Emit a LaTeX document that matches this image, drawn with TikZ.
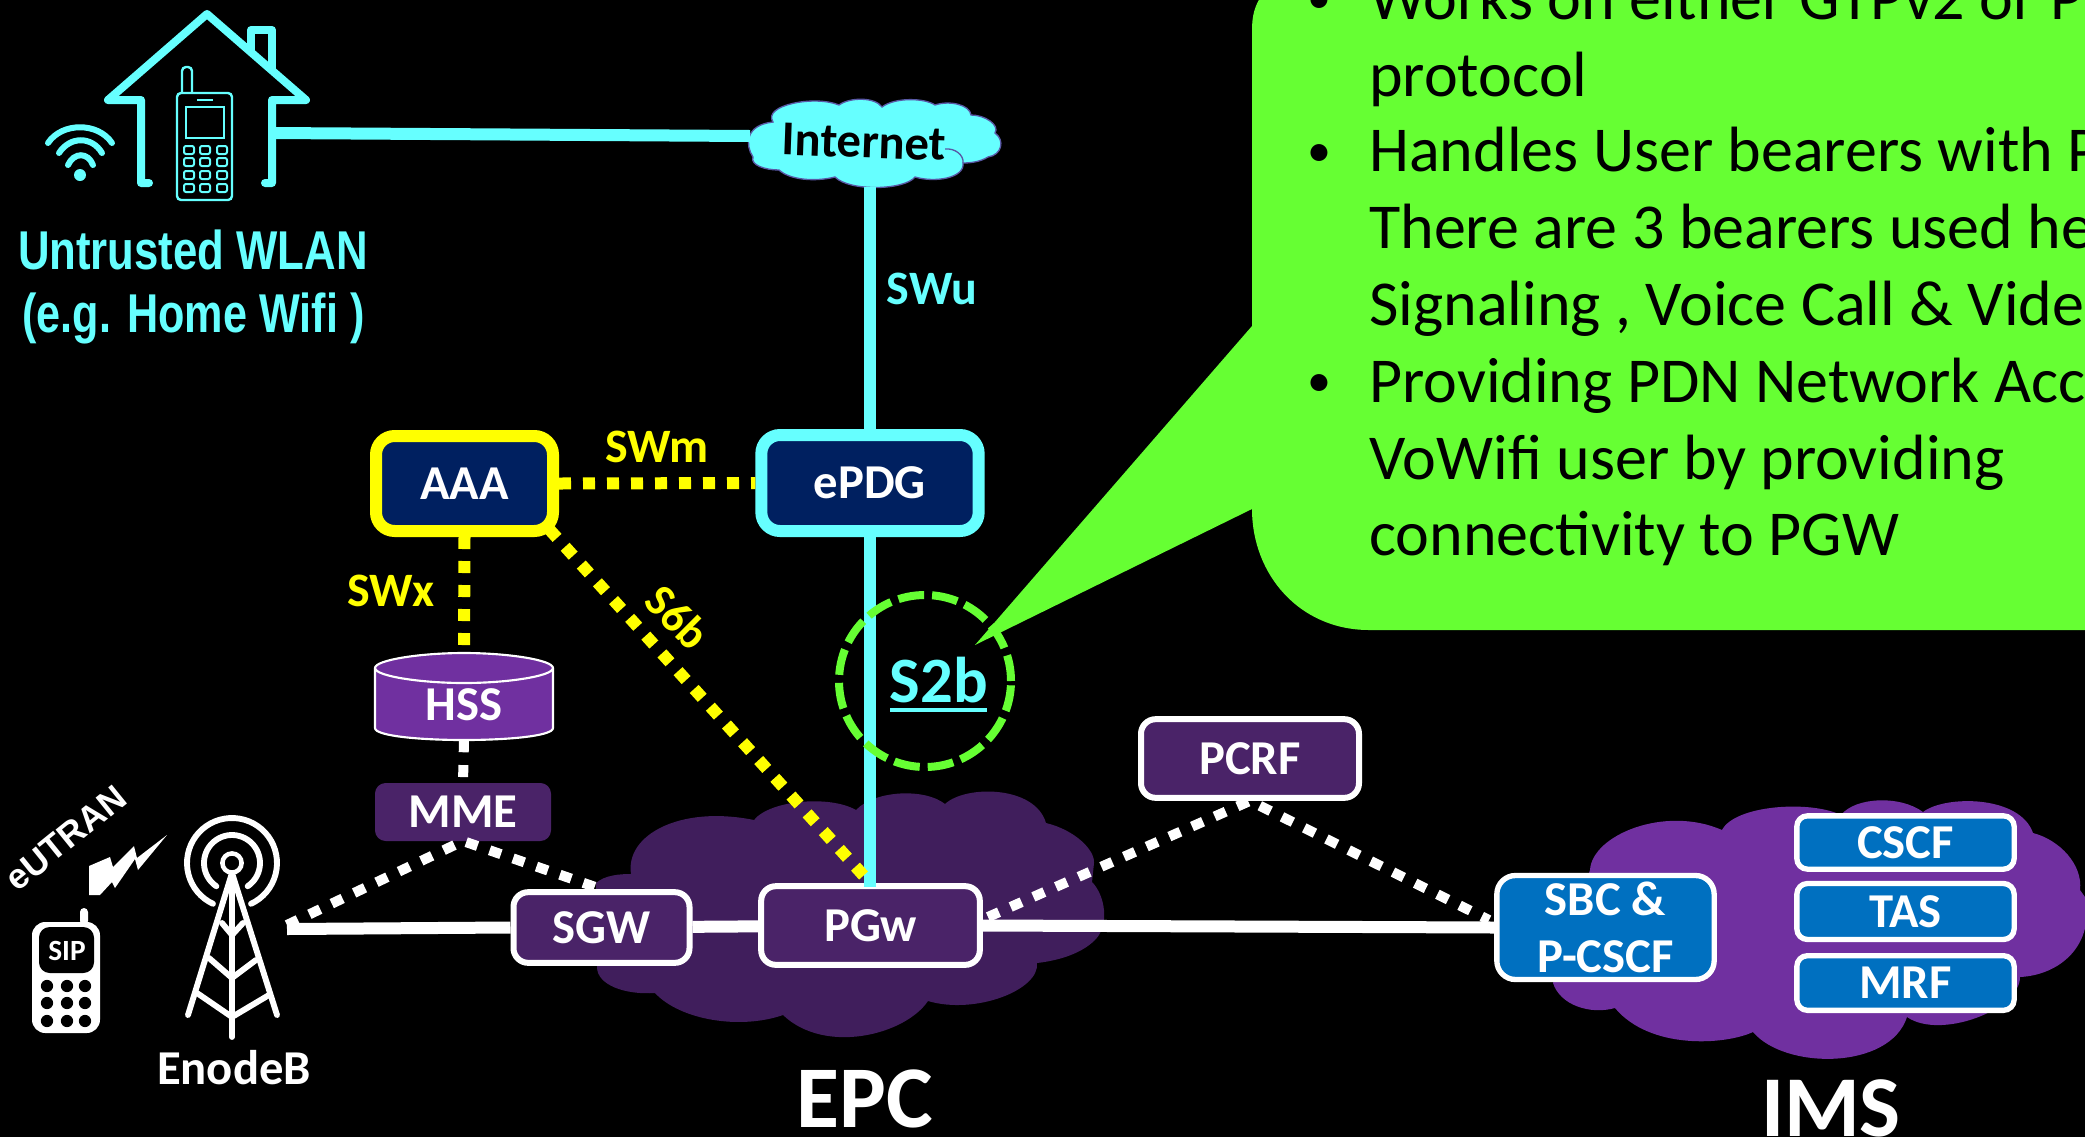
\documentclass[tikz,border=0pt]{standalone}
\usepackage{fontspec}
\setmainfont{Carlito}
\newfontfamily\arialf{Liberation Sans}
\def\fs#1{\fontsize{#1pt}{#1pt}\selectfont}
\definecolor{cy}{HTML}{66FFFF}
\definecolor{yel}{HTML}{FFFF00}
\definecolor{grn}{HTML}{66FF33}
\definecolor{navyb}{HTML}{002060}
\definecolor{purd}{HTML}{4A2368}
\definecolor{purc}{HTML}{401E5C}
\definecolor{purl}{HTML}{7030A0}
\definecolor{blu}{HTML}{0070C0}
\tikzset{
  lbl/.style={font=\bfseries\fs{36.5},text=white,inner sep=0pt,outer sep=0pt,align=center},
  boxn/.style={rectangle,draw=white,fill=purd,line width=4.5pt,rounded corners=11pt,lbl,outer sep=2.25pt},
  blueb/.style={boxn,fill=blu,line width=4pt,rounded corners=8pt},
  thickbox/.style={rectangle,fill=navyb,line width=9pt,rounded corners=14pt,lbl,outer sep=4.5pt},
  bodyt/.style={anchor=base west,text=black,inner sep=0pt,font=\fs{48}},
  bullt/.style={anchor=base west,text=black,inner sep=0pt,font=\fs{36}},
  yeldot/.style={draw=yel,line width=9pt,dash pattern=on 9pt off 9pt},
  whidot/.style={draw=white,line width=7.5pt,dash pattern=on 9pt off 9.6pt},
  whiline/.style={draw=white,line width=9pt},
  cyline/.style={draw=cy,line width=8.5pt},
  houseln/.style={draw=cy,line width=6pt,line join=round,line cap=round},
  phoneln/.style={draw=cy,line width=1.8pt,rounded corners=3pt},
  towerln/.style={draw=white,line width=4.4pt,line cap=round,line join=round},
  wifiln/.style={draw=cy,line width=4.5pt,line cap=round}
}
\begin{document}
\begin{tikzpicture}[x=0.75pt,y=-0.75pt]
\path[use as bounding box] (0,0) rectangle (2085,1136);
\fill[black] (-20,-20) rectangle (2105,1156);

% clouds
\fill[purc] (631,874) .. controls (625,835) and (680,805) .. (754,820)
  .. controls (770,800) and (830,795) .. (856,810)
  .. controls (875,790) and (925,788) .. (945,804)
  .. controls (965,785) and (1035,785) .. (1046,823)
  .. controls (1075,830) and (1095,850) .. (1094,863)
  -- (1092,882) .. controls (1105,895) and (1110,925) .. (1095,940)
  .. controls (1080,955) and (1055,961) .. (1037,963)
  .. controls (1040,990) and (975,1015) .. (928,1001)
  .. controls (905,1035) and (825,1055) .. (783,1015)
  .. controls (740,1030) and (680,1020) .. (655,993)
  .. controls (625,995) and (597,985) .. (597,967)
  -- (596,883) .. controls (605,875) and (620,874) .. (631,874) -- cycle;
\fill[purl] (1590,870) .. controls (1592,835) and (1665,805) .. (1722,830)
  .. controls (1735,805) and (1810,800) .. (1841,815)
  .. controls (1855,797) and (1900,795) .. (1923,812)
  .. controls (1945,795) and (2020,795) .. (2033,833)
  .. controls (2060,840) and (2083,865) .. (2080,890)
  -- (2085,897) .. controls (2095,945) and (2060,975) .. (2020,977)
  .. controls (2020,1010) and (1940,1040) .. (1907,1017)
  .. controls (1890,1070) and (1785,1070) .. (1753,1032)
  .. controls (1725,1045) and (1650,1050) .. (1615,1008)
  .. controls (1590,1015) and (1560,1005) .. (1553,983) -- cycle;
\filldraw[fill=cy,draw=gray!70!blue,line width=1pt] (773,122) .. controls (762,105) and (815,95) .. (839,105)
  .. controls (850,97) and (875,97) .. (882,107)
  .. controls (895,97) and (925,98) .. (935,105)
  .. controls (950,100) and (970,105) .. (971,115)
  .. controls (985,115) and (1000,125) .. (995,133)
  .. controls (1005,140) and (1002,155) .. (988,157)
  .. controls (980,162) and (970,163) .. (963,163)
  .. controls (965,178) and (935,183) .. (915,177)
  .. controls (905,190) and (850,192) .. (835,177)
  .. controls (815,182) and (790,180) .. (779,170)
  .. controls (765,170) and (750,165) .. (753,157)
  .. controls (745,145) and (745,125) .. (773,122) -- cycle;
\draw[gray!70!blue,line width=1pt] (945,149) .. controls (955,148) and (964,155) .. (963,163);

% callout
\fill[grn] (1262,-5) .. controls (1255,5) and (1252,15) .. (1252,30) -- (1252,326) -- (975,645) -- (1252,509)
  .. controls (1252,575) and (1300,630) .. (1369,630) -- (2200,630) -- (2200,-5) -- cycle;

% named points
\coordinate (inetW) at (750,136);
\coordinate (inetS) at (870,187);
\coordinate (houseE) at (272,133);
\coordinate (enbA) at (287,929);
\coordinate (enbB) at (287,925);
\coordinate (pgwR) at (988,917);
\coordinate (sbcL) at (1489,920);
\coordinate (pgwTop) at (870,887);
\coordinate (aaaSE) at (549,529);

% nodes
\node[thickbox,draw=yel,minimum width=132.75pt,minimum height=71.25pt] (aaa) at (464.5,483.5) {AAA};
\node[thickbox,draw=cy,minimum width=163pt,minimum height=72pt] (epdg) at (870,483) {ePDG};
\node[rectangle,minimum width=133.5pt,minimum height=65.25pt,inner sep=0pt] (hss) at (464,696.5) {};
\filldraw[fill=purl,draw=white,line width=1.6pt] (375,668) -- (375,728) .. controls (375,736) and (420,740) .. (464,740) .. controls (508,740) and (553,736) .. (553,728) -- (553,668) .. controls (553,660) and (508,653) .. (464,653) .. controls (420,653) and (375,660) .. (375,668) -- cycle;
\draw[white,line width=1.6pt] (375,668) .. controls (375,676) and (420,683) .. (464,683) .. controls (508,683) and (553,676) .. (553,668);
\node[lbl] (hsslabel) at (464,705) {HSS};
\node[rectangle,fill=purd,rounded corners=8pt,lbl,minimum width=132pt,minimum height=43.5pt] (mme) at (463,812) {MME};
\node[boxn,minimum width=132pt,minimum height=53pt] (sgw) at (601.5,927.5) {SGW};
\node[boxn,minimum width=164pt,minimum height=59pt] (pgw) at (870.5,925.5) {PGw};
\node[boxn,minimum width=163.5pt,minimum height=59pt] (pcrf) at (1250,758.5) {PCRF};
\node[blueb,minimum width=163pt,minimum height=78pt,rounded corners=14pt] (sbc) at (1605.5,927.5) {SBC \&\\[6pt]P-CSCF};
\node[blueb,minimum width=163pt,minimum height=40pt] (cscf) at (1905.5,842.5) {CSCF};
\node[blueb,minimum width=163pt,minimum height=42pt] (tas) at (1905.5,911.5) {TAS};
\node[blueb,minimum width=163pt,minimum height=41pt] (mrf) at (1905.5,983) {MRF};

% connectors
\draw[cyline,line width=9pt] (houseE) -- (inetW);
\draw[cyline] (inetS) -- (epdg);
\draw[cyline] (epdg) -- (pgwTop);
\draw[yeldot] (aaa.east) -- (epdg.west);
\draw[yeldot] (aaa.south) -- (hss.north);
\draw[yeldot] (aaaSE) -- (pgw.north);
\draw[whidot] (hss.south) -- (mme.north);
\draw[whiline] (enbA) -- (sgw.west);
\draw[whiline] (sgw) -- (pgw);
\draw[whiline] (pgw.east) -- (sbc.west);
\draw[whidot] (enbB) -- (mme.south) -- (sgw.north);
\draw[whidot] (pgwR) -- (pcrf.south) -- (sbcL);

% S2b
\node[circle,draw=grn,line width=6pt,dash pattern=on 19.5pt off 6pt,minimum size=129pt,inner sep=0pt] (s2bring) at (925,681) {};
\node[lbl,text=cy,font=\bfseries\fs{48.5}] (s2b) at (939,680) {S2b};
\fill[cy] (890,708) rectangle (987,712);

% labels
\node[lbl,text=black,rotate=-2,font=\bfseries\fs{36.5}] (internet) at (864,142) {Internet};
\node[lbl,text=cy,font=\bfseries\fs{36}] (swu) at (932,289) {SWu};
\node[lbl,text=yel,font=\bfseries\fs{36}] (swm) at (657,447) {SWm};
\node[lbl,text=yel,font=\bfseries\fs{36}] (swx) at (391,591) {SWx};
\node[lbl,text=yel,rotate=-45,font=\bfseries\fs{34}] (s6b) at (678,617) {S6b};
\node[lbl] (enodeb) at (234,1068) {EnodeB};
\node[lbl,font=\bfseries\fs{66}] (epc) at (865,1099) {EPC};
\node[lbl,font=\bfseries\fs{65}] (ims) at (1831,1108) {IMS};
\node[lbl,text=white,rotate=39,font=\arialf\bfseries\fs{26.5}] (eutran) at (66,838) {eUTRAN};
\node[lbl,text=cy,font=\arialf\bfseries\fs{41}] (wlan1) at (193,250) {\scalebox{0.80}[1]{Untrusted WLAN}};
\node[lbl,text=cy,font=\arialf\bfseries\fs{41}] (wlan2) at (193.5,318) {\scalebox{0.79}[1]{(e.g. Home Wifi )}};

% callout text
\node[bullt] (b1) at (1307,13) {•};
\node[bodyt] (t1) at (1369,19) {Works on either GTPv2 or P};
\node[bodyt] (t2) at (1369,96) {protocol};
\node[bullt] (b2) at (1307,166) {•};
\node[bodyt] (t3) at (1369,171.5) {Handles User bearers with P};
\node[bodyt] (t4) at (1369,248.5) {There are 3 bearers used he};
\node[bodyt] (t5) at (1369,325) {Signaling , Voice Call \& Vide};
\node[bullt] (b3) at (1307,396) {•};
\node[bodyt] (t6) at (1369,402) {Providing PDN Network Acc};
\node[bodyt] (t7) at (1369,479) {VoWifi user by providing};
\node[bodyt] (t8) at (1369,555) {connectivity to PGW};

% house
\draw[houseln] (149,183) -- (141,183) -- (141,100) -- (108,100) -- (207,14) -- (306,100) -- (272,100) -- (272,183) -- (265,183);
\draw[houseln,line cap=butt] (251,52) -- (251,30) -- (272,30) -- (272,70);
% home phone
\draw[phoneln] (177,93) rectangle (232,200);
\draw[phoneln] (182,93) -- (182,67) -- (192,67) -- (192,93);
\draw[draw=cy,line width=1.8pt] (186,107) rectangle (224,138);
\draw[draw=cy,line width=1.8pt] (197,100) -- (213,100);
\foreach \kx in {189,205,222}{\foreach \ky in {150,162,175,188}{
  \draw[draw=cy,line width=1.5pt,rounded corners=1.5pt] (\kx-5,\ky-4) rectangle (\kx+5,\ky+4);}}
% wifi
\draw[wifiln] (48,143) .. controls (62,122) and (98,122) .. (112,143);
\draw[wifiln] (59,153) .. controls (70,136) and (92,136) .. (102,153);
\draw[wifiln] (68,165) .. controls (74,152) and (88,152) .. (93,165);
\fill[cy] (80,175) ellipse [x radius=4.5pt,y radius=4.5pt];

% lightning
\fill[white] (89,866) -- (110,857) -- (113,867) -- (134,846) -- (137,858) -- (167,835) -- (138,870) -- (135,859) -- (115,888) -- (112,882) -- (100,895) -- (89,895) -- cycle;
% SIP phone
\fill[white,rounded corners=3pt] (80,925) rectangle (88,908);
\fill[white,rounded corners=10pt] (32,922) rectangle (100,1033);
\fill[black,rounded corners=8pt] (39,927) rectangle (94,973);
\node[lbl,font=\bfseries\fs{22}] (sip) at (67,951) {SIP};
\foreach \kx in {47,67,85}{\foreach \ky in {986,1003,1021}{\fill[black] (\kx,\ky) circle [radius=4.6pt];}}

% tower
\draw[towerln] plot[domain=115:425,samples=50] ({232+45*cos(\x)},{863+45*sin(\x)});
\draw[towerln] plot[domain=124:416,samples=50] ({232+28*cos(\x)},{863+28*sin(\x)});
\draw[draw=white,line width=3.4pt] (232,863) circle [radius=7.2pt];
\draw[towerln] (188,1015) -- (232,873) -- (277,1015);
\draw[towerln] (232,873) -- (232,1037);
\draw[towerln] (222,923) -- (232,935) -- (243,923);
\draw[towerln] (209,958) -- (232,978) -- (256,960);
\draw[towerln] (197,993) -- (232,1017) -- (269,995);
\end{tikzpicture}
\end{document}
